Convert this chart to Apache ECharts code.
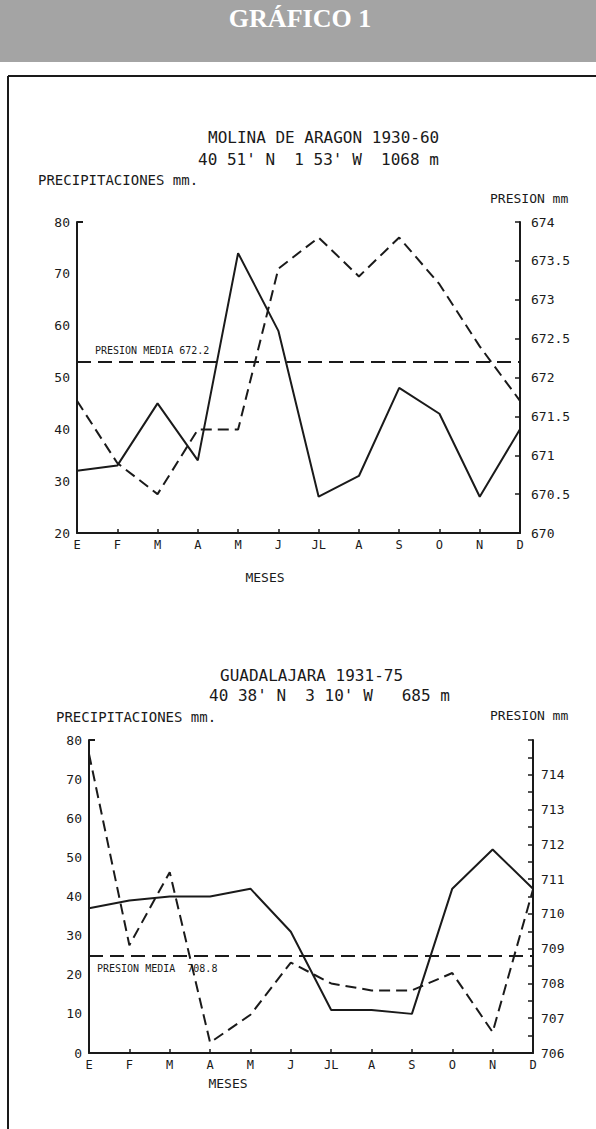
<!DOCTYPE html>
<html>
<head>
<meta charset="utf-8">
<style>
  html, body { margin: 0; padding: 0; background: #ffffff; }
  #chart { width: 596px; height: 1129px; }
</style>
<script src="https://cdn.jsdelivr.net/npm/echarts@6/dist/echarts.min.js"></script>
</head>
<body>
<div id="chart"></div>
<script>
// ---- data ----
const months = ['E', 'F', 'M', 'A', 'M', 'J', 'JL', 'A', 'S', 'O', 'N', 'D'];

const molinaPrecip = [32, 33, 45, 34, 74, 59, 27, 31, 48, 43, 27, 40];
const molinaPres   = [671.7, 670.9, 670.5, 671.33, 671.33, 673.4, 673.8, 673.3, 673.8, 673.2, 672.4, 671.7];
const molinaMean   = 672.2;

const guadaPrecip  = [37, 39, 40, 40, 42, 31, 11, 11, 10, 42, 52, 42];
const guadaPres    = [714.6, 709.1, 711.2, 706.3, 707.1, 708.6, 708.0, 707.8, 707.8, 708.3, 706.6, 710.7];
const guadaMean    = 708.8;

const guadaPresLabels = [706, 707, 708, 709, 710, 711, 712, 713, 714];

// ---- style ----
const INK = '#1a1a1a';
const MONO = 'DejaVu Sans Mono';

const chart = echarts.init(document.getElementById('chart'), null, { renderer: 'svg' });

function xAxisCfg(gridIndex) {
  return {
    type: 'category', gridIndex, data: months, boundaryGap: false,
    axisLine: { lineStyle: { color: INK, width: 2 } },
    axisTick: { show: true, inside: true, length: 4, lineStyle: { color: INK, width: 1.5 } },
    axisLabel: { color: INK, fontFamily: MONO, fontSize: 12, margin: 6 },
    splitLine: { show: false }
  };
}
function leftAxisCfg(gridIndex, min, max, top) {
  return {
    type: 'value', gridIndex, position: 'left', min, max, interval: 10,
    axisLine: { show: true, lineStyle: { color: INK, width: 2 } },
    axisTick: { show: true, inside: true, length: 6, customValues: [top], lineStyle: { color: INK, width: 2 } },
    axisLabel: { color: INK, fontFamily: MONO, fontSize: 13, margin: 7 },
    splitLine: { show: false }
  };
}

const option = {
  animation: false,
  backgroundColor: '#ffffff',
  grid: [
    { left: 77, right: 76, top: 222, height: 311 },
    { left: 89, right: 63, top: 740, height: 313 }
  ],
  xAxis: [xAxisCfg(0), xAxisCfg(1)],
  yAxis: [
    leftAxisCfg(0, 20, 80, 80),
    {
      type: 'value', gridIndex: 0, position: 'right', min: 670, max: 674, interval: 0.5,
      axisLine: { show: true, lineStyle: { color: INK, width: 2 } },
      axisTick: { show: true, inside: true, length: 5, lineStyle: { color: INK, width: 1.5 } },
      axisLabel: { color: INK, fontFamily: MONO, fontSize: 13, margin: 11 },
      splitLine: { show: false }
    },
    leftAxisCfg(1, 0, 80, 80),
    {
      type: 'value', gridIndex: 1, position: 'right', min: 706, max: 715, interval: 0.5,
      axisLine: { show: true, lineStyle: { color: INK, width: 2 } },
      axisTick: { show: true, inside: true, length: 5, lineStyle: { color: INK, width: 1.5 } },
      axisLabel: { color: INK, fontFamily: MONO, fontSize: 13, margin: 8, customValues: guadaPresLabels },
      splitLine: { show: false }
    }
  ],
  series: [
    {
      type: 'line', name: 'Precipitaciones', xAxisIndex: 0, yAxisIndex: 0, data: molinaPrecip,
      symbol: 'none', lineStyle: { color: INK, width: 2 }
    },
    {
      type: 'line', name: 'Presion', xAxisIndex: 0, yAxisIndex: 1, data: molinaPres,
      symbol: 'none', lineStyle: { color: INK, width: 2, type: [11, 6] },
      markLine: {
        silent: true, symbol: ['none', 'none'],
        lineStyle: { color: INK, width: 2, type: [14, 7] },
        label: {
          show: true, position: 'insideStartTop', distance: [18, 6],
          formatter: 'PRESION MEDIA ' + molinaMean,
          color: INK, fontFamily: MONO, fontSize: 10
        },
        data: [{ yAxis: molinaMean }]
      }
    },
    {
      type: 'line', name: 'Precipitaciones', xAxisIndex: 1, yAxisIndex: 2, data: guadaPrecip,
      symbol: 'none', lineStyle: { color: INK, width: 2 }
    },
    {
      type: 'line', name: 'Presion', xAxisIndex: 1, yAxisIndex: 3, data: guadaPres,
      symbol: 'none', lineStyle: { color: INK, width: 2, type: [11, 6] },
      markLine: {
        silent: true, symbol: ['none', 'none'],
        lineStyle: { color: INK, width: 2, type: [14, 7] },
        label: {
          show: true, position: 'insideStartBottom', distance: [8, 8],
          formatter: 'PRESION MEDIA  ' + guadaMean,
          color: INK, fontFamily: MONO, fontSize: 10
        },
        data: [{ yAxis: guadaMean }]
      }
    }
  ],
  graphic: [
    { type: 'rect', shape: { x: 0, y: 0, width: 596, height: 62 }, style: { fill: '#a4a4a4' }, z: 0 },
    { type: 'text', style: { x: 300, y: 18, text: 'GRÁFICO 1', fill: '#ffffff', font: 'bold 26px "Liberation Serif"', textAlign: 'center', textVerticalAlign: 'middle' }, z: 1 },
    { type: 'line', shape: { x1: 8, y1: 76, x2: 596, y2: 76 }, style: { stroke: INK, lineWidth: 2 } },
    { type: 'line', shape: { x1: 8, y1: 76, x2: 8, y2: 1129 }, style: { stroke: INK, lineWidth: 2 } },

    { type: 'text', style: { x: 208, y: 137, text: 'MOLINA DE ARAGON 1930-60', fill: INK, font: '16px "DejaVu Sans Mono"', textVerticalAlign: 'middle' } },
    { type: 'text', style: { x: 198, y: 159, text: "40 51' N  1 53' W  1068 m", fill: INK, font: '16px "DejaVu Sans Mono"', textVerticalAlign: 'middle' } },
    { type: 'text', style: { x: 38, y: 180, text: 'PRECIPITACIONES mm.', fill: INK, font: '14px "DejaVu Sans Mono"', textVerticalAlign: 'middle' } },
    { type: 'text', style: { x: 490, y: 198, text: 'PRESION mm', fill: INK, font: '13px "DejaVu Sans Mono"', textVerticalAlign: 'middle' } },
    { type: 'text', style: { x: 265, y: 577, text: 'MESES', fill: INK, font: '13px "DejaVu Sans Mono"', textAlign: 'center', textVerticalAlign: 'middle' } },

    { type: 'text', style: { x: 220, y: 675, text: 'GUADALAJARA 1931-75', fill: INK, font: '16px "DejaVu Sans Mono"', textVerticalAlign: 'middle' } },
    { type: 'text', style: { x: 209, y: 695, text: "40 38' N  3 10' W   685 m", fill: INK, font: '16px "DejaVu Sans Mono"', textVerticalAlign: 'middle' } },
    { type: 'text', style: { x: 56, y: 717, text: 'PRECIPITACIONES mm.', fill: INK, font: '14px "DejaVu Sans Mono"', textVerticalAlign: 'middle' } },
    { type: 'text', style: { x: 490, y: 715, text: 'PRESION mm', fill: INK, font: '13px "DejaVu Sans Mono"', textVerticalAlign: 'middle' } },
    { type: 'text', style: { x: 228, y: 1083, text: 'MESES', fill: INK, font: '13px "DejaVu Sans Mono"', textAlign: 'center', textVerticalAlign: 'middle' } }
  ]
};

chart.setOption(option);
</script>
</body>
</html>
